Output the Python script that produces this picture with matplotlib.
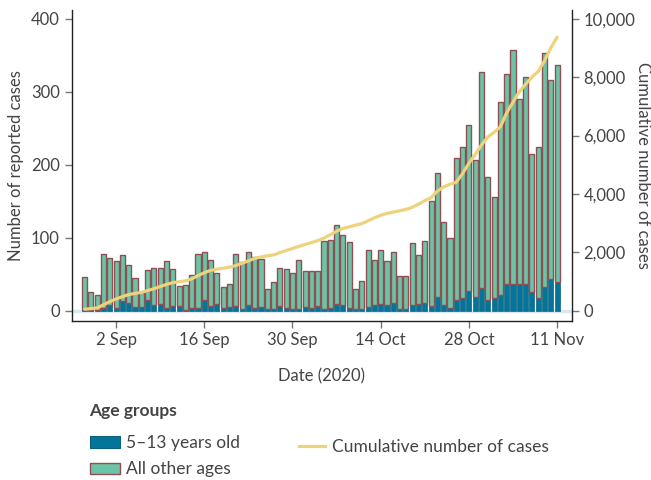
import matplotlib
matplotlib.use("Agg")
import matplotlib.pyplot as plt
import matplotlib.dates as mdates
from matplotlib.patches import Patch
from matplotlib.lines import Line2D
import numpy as np
import pandas as pd

plt.rcParams['font.family'] = ['Lato', 'DejaVu Sans']

# ---- data ----
start_date = "2020-08-28"
n_days = 76

age_5_13 = [2, 1, 1, 3, 8, 3, 13, 11, 5, 5, 15, 8, 9, 4, 6, 6, 1, 4, 4, 15,
            6, 9, 3, 5, 6, 2, 8, 4, 5, 2, 2, 6, 3, 2, 2, 5, 3, 6, 2, 3,
            9, 8, 3, 2, 2, 5, 8, 9, 8, 10, 2, 2, 8, 9, 10, 6, 19, 8, 3, 15,
            17, 27, 19, 31, 15, 17, 22, 36, 37, 36, 36, 26, 18, 33, 44, 39]

other_ages = [44, 24, 21, 75, 64, 65, 63, 51, 40, 21, 41, 51, 49, 64, 51, 28, 34, 45, 74, 65,
              64, 43, 30, 32, 72, 65, 73, 70, 66, 28, 37, 52, 54, 49, 67, 50, 51, 49, 93, 94,
              109, 96, 91, 28, 39, 78, 61, 74, 60, 70, 46, 46, 85, 67, 85, 144, 169, 114, 96, 194,
              207, 228, 187, 296, 168, 139, 264, 289, 320, 254, 284, 189, 206, 320, 272, 298]

cumulative = [48, 70, 95, 200, 310, 400, 480, 550, 590, 625, 690, 750, 825, 900, 960, 990,
              1020, 1090, 1200, 1300, 1380, 1420, 1455, 1490, 1545, 1625, 1706, 1790, 1840, 1880,
              1910, 1990, 2060, 2130, 2200, 2270, 2330, 2400, 2490, 2600, 2720, 2820, 2870, 2930,
              2980, 3080, 3180, 3270, 3330, 3380, 3420, 3470, 3540, 3650, 3770, 3870, 4100, 4240,
              4330, 4400, 4700, 5050, 5350, 5680, 5950, 6110, 6300, 6780, 7150, 7500, 7760, 8000,
              8200, 8560, 9000, 9370]

tick_dates = ["2020-09-02", "2020-09-16", "2020-09-30", "2020-10-14", "2020-10-28", "2020-11-11"]
tick_labels = ["2 Sep", "16 Sep", "30 Sep", "14 Oct", "28 Oct", "11 Nov"]
left_ticks = [0, 100, 200, 300, 400]
right_ticks = [0, 2000, 4000, 6000, 8000, 10000]

# ---- style ----
c_young = "#04759a"
c_other = "#6cc4a6"
c_edge = "#8e4f55"
c_line = "#eed27c"
c_text = "#444444"
fs = 12

dates = pd.date_range(start_date, periods=n_days, freq="D")

fig = plt.figure(figsize=(6.51, 4.80), dpi=100)
ax = fig.add_axes([0.110, 0.332, 0.768, 0.647])

ax.axhline(0, color="#dde7ee", lw=2.5, zorder=0)
ax.bar(dates, age_5_13, width=0.82, color=c_young, edgecolor="#0d5f7b", linewidth=0.5, zorder=2)
ax.bar(dates, other_ages, bottom=age_5_13, width=0.82, color=c_other, edgecolor=c_edge,
       linewidth=1.0, zorder=2)

ax.set_xlim(dates[0] - pd.Timedelta(days=2.06), dates[-1] + pd.Timedelta(days=2.3))
ax.set_ylim(-13.7, 412)
ax.set_yticks(left_ticks)
ax.set_xticks(pd.to_datetime(tick_dates))
ax.set_xticklabels(tick_labels)

ax2 = ax.twinx()
ax2.plot(dates, cumulative, color=c_line, lw=2.3, zorder=3, solid_capstyle="round")
ax2.set_ylim(-13.7 * 25, 412 * 25)
ax2.set_yticks(right_ticks)
ax2.set_yticklabels([f"{v:,}" for v in right_ticks])

for a in (ax, ax2):
    a.spines["top"].set_visible(False)
    for s in a.spines.values():
        s.set_color("#222222")
        s.set_linewidth(1.0)
    a.tick_params(colors="#777777", labelcolor=c_text, labelsize=fs, length=5, width=1)
ax.spines["right"].set_visible(False)
ax2.spines["left"].set_visible(False)
ax2.spines["bottom"].set_visible(False)

ax.set_ylabel("Number of reported cases", fontsize=fs, color=c_text, labelpad=5)
ax2.set_ylabel("Cumulative number of cases", fontsize=fs, color=c_text, rotation=270, labelpad=11)
ax.set_xlabel("Date (2020)", fontsize=fs, color=c_text, labelpad=14)

# ---- legend ----
fig.text(89 / 651, 1 - 411 / 480, "Age groups", fontsize=12.5, fontweight="bold",
         color=c_text, va="center", ha="left")
h1 = [Patch(facecolor=c_young, edgecolor="#0d5f7b", linewidth=0.8),
      Patch(facecolor=c_other, edgecolor=c_edge, linewidth=1.0)]
leg1 = fig.legend(h1, ["5\u201313 years old", "All other ages"], loc="upper left",
                  bbox_to_anchor=(90 / 651, 1 - 435 / 480), frameon=False, fontsize=12.5,
                  handlelength=1.73, handleheight=0.63, handletextpad=0.35, labelspacing=0.6,
                  borderpad=0, borderaxespad=0, labelcolor=c_text)
h2 = [Line2D([0], [0], color=c_line, lw=2.3)]
leg2 = fig.legend(h2, ["Cumulative number of cases"], loc="upper left",
                  bbox_to_anchor=(299 / 651, 1 - 439 / 480), frameon=False, fontsize=12.5,
                  handlelength=1.5, handletextpad=0.4, borderpad=0, borderaxespad=0,
                  labelcolor=c_text)

fig.savefig("out.png", dpi=100)
